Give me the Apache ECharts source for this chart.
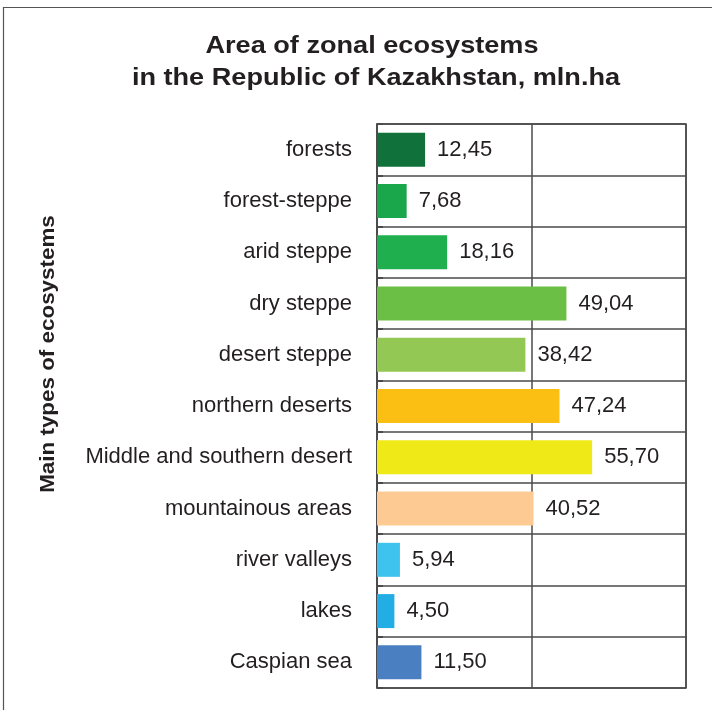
<!DOCTYPE html>
<html>
<head>
<meta charset="utf-8">
<script src="https://cdn.jsdelivr.net/npm/echarts@6/dist/echarts.min.js"></script>
<style>
  html, body { margin: 0; padding: 0; background: #fff; }
  #chart { width: 712px; height: 710px; }
</style>
</head>
<body>
<div id="chart"></div>
<script>
// Ecosystem types, top to bottom
const categories = [
  'forests', 'forest-steppe', 'arid steppe', 'dry steppe', 'desert steppe',
  'northern deserts', 'Middle and southern desert', 'mountainous areas',
  'river valleys', 'lakes', 'Caspian sea'
];
// Area, mln. ha
const areas = [12.45, 7.68, 18.16, 49.04, 38.42, 47.24, 55.70, 40.52, 5.94, 4.50, 11.50];
// Fill colour of each bar
const barColors = [
  '#10723a', '#1aa64b', '#1faf4e', '#6cbf45', '#92c853',
  '#fbbf14', '#f0e918', '#fdca94', '#3ec3ef', '#22aee4', '#4a80c1'
];
// X scale
const xMin = 0, xMax = 80, xStep = 40;

const titleLines = ['Area of zonal ecosystems', 'in the Republic of Kazakhstan, mln.ha'];
const axisTitle = 'Main types of ecosystems';

const chart = echarts.init(document.getElementById('chart'), null, { renderer: 'canvas' });
const font = 'Liberation Sans, Arial, sans-serif';
const ink = '#231f20';
const gridLine = '#4a4a4a';

chart.setOption({
  backgroundColor: '#ffffff',
  animation: false,
  graphic: [
    {
      type: 'rect',
      shape: { x: 3.5, y: 7.5, width: 760, height: 760 },
      style: { fill: 'none', stroke: '#555', lineWidth: 1.2 },
      silent: true, z: 0
    },
    {
      type: 'text', x: 372, y: 46, scaleX: 1.13,
      style: {
        text: titleLines[0], font: 'bold 24px ' + font, fill: ink,
        textAlign: 'center', textVerticalAlign: 'middle'
      }
    },
    {
      type: 'text', x: 376, y: 78, scaleX: 1.13,
      style: {
        text: titleLines[1], font: 'bold 24px ' + font, fill: ink,
        textAlign: 'center', textVerticalAlign: 'middle'
      }
    },
    {
      type: 'text', x: 48, y: 354, rotation: Math.PI / 2, scaleX: 1.12,
      style: {
        text: axisTitle, font: 'bold 20px ' + font, fill: ink,
        textAlign: 'center', textVerticalAlign: 'middle'
      }
    }
  ],
  grid: {
    left: 377, top: 124, width: 309, height: 564,
    show: true, borderColor: gridLine, borderWidth: 1.5, backgroundColor: 'transparent'
  },
  xAxis: {
    type: 'value', min: xMin, max: xMax, interval: xStep,
    axisLabel: { show: false }, axisTick: { show: false },
    axisLine: { show: false },
    splitLine: { show: true, lineStyle: { color: gridLine, width: 1.5 } }
  },
  yAxis: {
    type: 'category', data: categories, inverse: true,
    axisLine: { show: true, lineStyle: { color: gridLine, width: 1.5 } },
    axisTick: { show: true, inside: true, length: 6, lineStyle: { color: gridLine, width: 2 } },
    axisLabel: { fontFamily: font, fontSize: 22, color: ink, margin: 25, padding: [4, 0, 0, 0] },
    splitLine: { show: true, lineStyle: { color: gridLine, width: 1.5 } }
  },
  series: [{
    type: 'bar',
    data: areas.map((v, i) => ({ value: v, itemStyle: { color: barColors[i] } })),
    barWidth: 34,
    label: {
      show: true, position: 'right', distance: 12, padding: [4, 0, 0, 0],
      fontFamily: font, fontSize: 22, color: ink,
      formatter: p => p.value.toFixed(2).replace('.', ',')
    }
  }]
});
</script>
</body>
</html>
